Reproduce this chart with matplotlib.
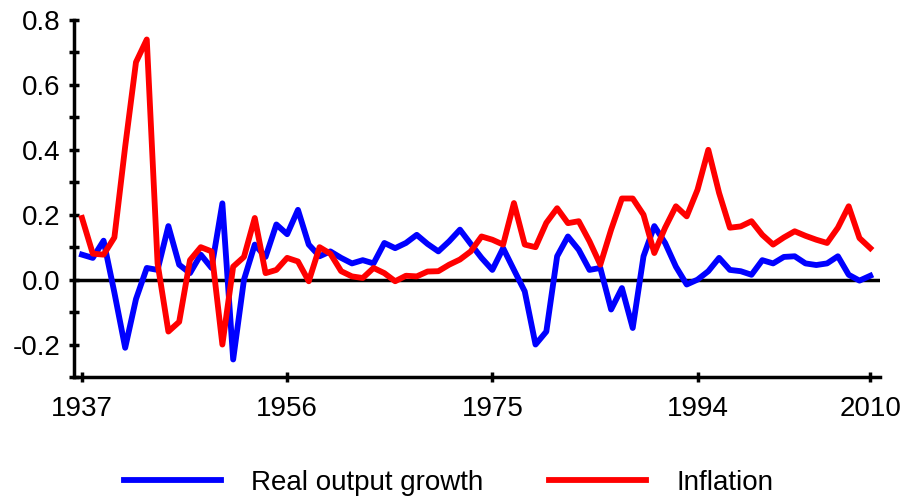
import numpy as np
import matplotlib
matplotlib.use("Agg")
import matplotlib.pyplot as plt
from matplotlib.ticker import MultipleLocator

plt.rcParams["font.family"] = ["Liberation Sans", "DejaVu Sans"]

years = np.arange(1937, 2011)

# annual real output growth (blue)
output_growth = [
    0.077, 0.067, 0.12, -0.04, -0.21, -0.06, 0.036, 0.03, 0.165, 0.046,
    0.02, 0.077, 0.036, 0.235, -0.246, 0.0, 0.108, 0.07, 0.17, 0.14,
    0.215, 0.108, 0.072, 0.087, 0.067, 0.05, 0.06, 0.05, 0.113, 0.097,
    0.113, 0.138, 0.11, 0.087, 0.118, 0.154, 0.11, 0.067, 0.03, 0.097,
    0.03, -0.036, -0.2, -0.16, 0.072, 0.133, 0.092, 0.03, 0.036, -0.092,
    -0.026, -0.149, 0.072, 0.165, 0.113, 0.04, -0.015, 0.0, 0.026, 0.067,
    0.03, 0.026, 0.015, 0.06, 0.05, 0.07, 0.072, 0.05, 0.045, 0.05,
    0.072, 0.015, -0.003, 0.012,
]

# annual inflation (red)
inflation = [
    0.19, 0.08, 0.077, 0.13, 0.41, 0.67, 0.74, 0.05, -0.16, -0.13,
    0.06, 0.10, 0.087, -0.2, 0.04, 0.07, 0.19, 0.02, 0.03, 0.067,
    0.056, -0.005, 0.10, 0.08, 0.026, 0.01, 0.005, 0.036, 0.02, -0.005,
    0.012, 0.01, 0.025, 0.026, 0.046, 0.062, 0.087, 0.133, 0.123, 0.108,
    0.236, 0.108, 0.10, 0.175, 0.22, 0.174, 0.18, 0.118, 0.046, 0.154,
    0.25, 0.25, 0.2, 0.082, 0.16, 0.226, 0.195, 0.277, 0.40, 0.267,
    0.16, 0.164, 0.18, 0.138, 0.108, 0.13, 0.149, 0.135, 0.123, 0.113,
    0.16, 0.226, 0.128, 0.097,
]

year_ticks = [1937, 1956, 1975, 1994, 2010]

fig = plt.figure(figsize=(9.1, 5.04), dpi=100)
ax = fig.add_axes([74 / 910, 1 - 377 / 504, (880 - 74) / 910, (377 - 20) / 504])

ax.axhline(0, color="black", linewidth=2.5, zorder=1)
ax.plot(years, output_growth, color="#0000ff", linewidth=4.2, label="Real output growth", zorder=2)
ax.plot(years, inflation, color="#ff0000", linewidth=4.2, label="Inflation", zorder=3)

ax.set_xlim(1936.26, 2010.9)
ax.set_ylim(-0.3, 0.8)

ax.set_xticks(year_ticks)
ax.yaxis.set_major_locator(MultipleLocator(0.2))
ax.yaxis.set_minor_locator(MultipleLocator(0.1))
ax.yaxis.set_major_formatter(plt.FuncFormatter(lambda v, p: f"{v:.1f}"))

for side in ("top", "right"):
    ax.spines[side].set_visible(False)
for side in ("left", "bottom"):
    ax.spines[side].set_linewidth(2.5)

ax.tick_params(axis="both", which="both", direction="inout", width=2.5, colors="black")
ax.tick_params(axis="y", which="major", length=7, pad=6, labelsize=20)
ax.tick_params(axis="y", which="minor", length=7)
ax.tick_params(axis="x", which="major", length=7, pad=10, labelsize=20)

fig.legend(loc="center", bbox_to_anchor=(0.493, 1 - 483 / 504), ncol=2, frameon=False,
           fontsize=20, handlelength=3.5, handletextpad=1.08, columnspacing=2.37)

fig.savefig("out.png", dpi=100)
